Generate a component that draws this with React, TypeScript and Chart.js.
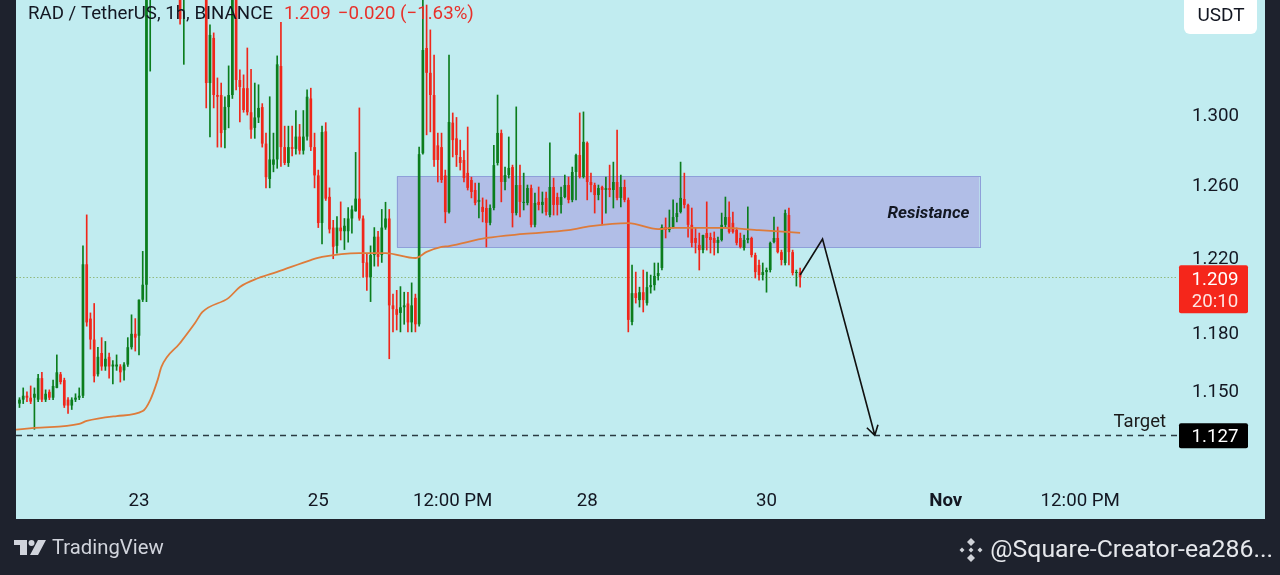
import React, { useEffect, useRef } from 'react';
import { Chart, registerables } from 'chart.js';

Chart.register(...registerables);

// hours are counted from Oct 23, 00:00 (1h candles)
const FIRST_HOUR = -32;

const opens = [
  1.143, 1.145, 1.147, 1.146, 1.146, 1.145, 1.156, 1.145, 1.149, 1.146,
  1.151, 1.158, 1.155, 1.145, 1.142, 1.145, 1.146, 1.147, 1.216, 1.187,
  1.176, 1.158, 1.169, 1.162, 1.167, 1.162, 1.162, 1.162, 1.160, 1.163,
  1.172, 1.179, 1.178, 1.197, 1.205, 1.400, 1.410, 1.430, 1.420, 1.400,
  1.415, 1.395, 1.405, 1.390, 1.370, 1.380, 1.395, 1.400, 1.390, 1.385,
  1.380, 1.318, 1.3447, 1.311, 1.311, 1.2908, 1.304, 1.311, 1.375, 1.3198,
  1.315, 1.315, 1.301, 1.292, 1.298, 1.304, 1.283, 1.263, 1.271, 1.274,
  1.328, 1.281, 1.272, 1.281, 1.280, 1.287, 1.279, 1.287, 1.309, 1.281,
  1.265, 1.2385, 1.290, 1.253, 1.236, 1.226, 1.236, 1.234, 1.234, 1.241,
  1.245, 1.252, 1.241, 1.217, 1.209, 1.221, 1.231, 1.221, 1.236, 1.241,
  1.194, 1.192, 1.190, 1.193, 1.195, 1.185, 1.198, 1.184, 1.2775, 1.3387,
  1.324, 1.311, 1.282, 1.281, 1.265, 1.2445, 1.295, 1.286, 1.2754, 1.2737,
  1.2664, 1.2624, 1.2568, 1.2502, 1.2474, 1.2468, 1.2386, 1.2468, 1.2720, 1.289,
  1.2613, 1.2652, 1.2697, 1.2440, 1.2596, 1.2496, 1.2496, 1.2579, 1.2375, 1.2502,
  1.2485, 1.2524, 1.2429, 1.2585, 1.2529, 1.2485, 1.2529, 1.2596, 1.2513, 1.2669,
  1.2765, 1.2641, 1.2834, 1.2613, 1.2596, 1.2540, 1.2585, 1.2568, 1.2579, 1.2568,
  1.2613, 1.2524, 1.2585, 1.2513, 1.1852, 1.2005, 1.1968, 1.2010, 1.1952, 1.2037,
  1.2048, 1.2097, 1.2140, 1.2363, 1.2347, 1.2363, 1.2418, 1.2446, 1.2518, 1.2485,
  1.2375, 1.2303, 1.2265, 1.2237, 1.2330, 1.2308, 1.2303, 1.2276, 1.2292, 1.2375,
  1.2418, 1.2386, 1.2347, 1.2303, 1.2248, 1.2292, 1.2303, 1.2210, 1.2156, 1.2102,
  1.2118, 1.2129, 1.2281, 1.2303, 1.2226, 1.2167, 1.2429, 1.2226, 1.2113, 1.2118,
];

const highs = [
  1.146, 1.151, 1.149, 1.152, 1.151, 1.158, 1.159, 1.150, 1.150, 1.155,
  1.168, 1.159, 1.156, 1.146, 1.146, 1.148, 1.151, 1.226, 1.243, 1.190,
  1.195, 1.172, 1.177, 1.175, 1.169, 1.165, 1.168, 1.163, 1.164, 1.177,
  1.189, 1.187, 1.197, 1.223, 1.420, 1.430, 1.440, 1.460, 1.430, 1.420,
  1.430, 1.410, 1.415, 1.400, 1.385, 1.400, 1.410, 1.420, 1.400, 1.395,
  1.390, 1.3525, 1.3477, 1.321, 1.318, 1.3099, 1.3281, 1.390, 1.385, 1.3257,
  1.3228, 1.3387, 1.326, 1.318, 1.317, 1.306, 1.289, 1.310, 1.289, 1.334,
  1.354, 1.293, 1.293, 1.293, 1.302, 1.294, 1.302, 1.314, 1.315, 1.289,
  1.268, 1.293, 1.295, 1.258, 1.240, 1.242, 1.2502, 1.241, 1.247, 1.248,
  1.278, 1.3035, 1.2425, 1.222, 1.226, 1.236, 1.234, 1.246, 1.250, 1.246,
  1.200, 1.202, 1.204, 1.201, 1.201, 1.206, 1.200, 1.281, 1.372, 1.3645,
  1.3495, 1.3345, 1.289, 1.289, 1.268, 1.3345, 1.3006, 1.298, 1.285, 1.279,
  1.2925, 1.264, 1.2607, 1.2607, 1.2524, 1.2513, 1.2485, 1.282, 1.3110, 1.2908,
  1.2697, 1.2868, 1.2708, 1.3041, 1.2708, 1.2663, 1.2596, 1.2596, 1.2551, 1.2585,
  1.2557, 1.2557, 1.2834, 1.2635, 1.2551, 1.2585, 1.2652, 1.2641, 1.2697, 1.2770,
  1.3006, 1.3012, 1.2840, 1.2663, 1.2607, 1.2596, 1.2590, 1.2641, 1.2708, 1.2725,
  1.2908, 1.2652, 1.2624, 1.2524, 1.2156, 1.2118, 1.2037, 1.2129, 1.2118, 1.2102,
  1.2167, 1.2167, 1.2375, 1.2413, 1.2457, 1.2513, 1.2496, 1.2725, 1.2663, 1.2490,
  1.2468, 1.2358, 1.2330, 1.2319, 1.2502, 1.2330, 1.2336, 1.2308, 1.2440, 1.2529,
  1.2502, 1.2446, 1.2358, 1.2330, 1.2319, 1.2474, 1.2308, 1.2221, 1.2183, 1.2167,
  1.2140, 1.2281, 1.2418, 1.2363, 1.2237, 1.2457, 1.2468, 1.2237, 1.2129, 1.2140,
];

const lows = [
  1.141, 1.143, 1.144, 1.143, 1.130, 1.144, 1.144, 1.144, 1.145, 1.145,
  1.151, 1.153, 1.141, 1.138, 1.140, 1.144, 1.145, 1.146, 1.183, 1.171,
  1.154, 1.157, 1.160, 1.160, 1.156, 1.153, 1.160, 1.154, 1.155, 1.162,
  1.171, 1.170, 1.168, 1.196, 1.196, 1.325, 1.390, 1.410, 1.390, 1.385,
  1.390, 1.380, 1.380, 1.353, 1.329, 1.372, 1.380, 1.385, 1.375, 1.372,
  1.3035, 1.2868, 1.3035, 1.281, 1.281, 1.2805, 1.292, 1.309, 1.314, 1.2954,
  1.301, 1.2994, 1.286, 1.286, 1.295, 1.281, 1.258, 1.258, 1.267, 1.269,
  1.270, 1.271, 1.270, 1.276, 1.277, 1.277, 1.277, 1.285, 1.279, 1.258,
  1.236, 1.227, 1.251, 1.233, 1.219, 1.222, 1.2292, 1.224, 1.228, 1.233,
  1.245, 1.240, 1.209, 1.202, 1.196, 1.215, 1.215, 1.217, 1.235, 1.166,
  1.180, 1.181, 1.180, 1.184, 1.180, 1.180, 1.180, 1.183, 1.277, 1.288,
  1.2897, 1.270, 1.2613, 1.261, 1.2386, 1.244, 1.2754, 1.270, 1.268, 1.2613,
  1.2568, 1.2524, 1.2485, 1.2413, 1.2391, 1.2254, 1.2375, 1.2457, 1.2708, 1.2502,
  1.2568, 1.2635, 1.2363, 1.2429, 1.2418, 1.2457, 1.2485, 1.2363, 1.2363, 1.2457,
  1.2440, 1.2429, 1.2418, 1.2429, 1.2429, 1.2440, 1.2524, 1.2496, 1.2502, 1.2513,
  1.2635, 1.2635, 1.2513, 1.2557, 1.2440, 1.2513, 1.2375, 1.2440, 1.2530, 1.2468,
  1.2513, 1.2474, 1.2502, 1.1800, 1.1837, 1.1952, 1.1931, 1.1905, 1.1941, 1.2005,
  1.2021, 1.2075, 1.2129, 1.2303, 1.2336, 1.2358, 1.2391, 1.2440, 1.2468, 1.2308,
  1.2254, 1.2221, 1.2129, 1.2221, 1.2237, 1.2221, 1.2210, 1.2221, 1.2286, 1.2363,
  1.2330, 1.2330, 1.2265, 1.2248, 1.2237, 1.2276, 1.2199, 1.2086, 1.2075, 1.2075,
  1.2010, 1.2118, 1.2276, 1.2221, 1.2156, 1.2156, 1.2156, 1.2102, 1.2043, 1.2037,
];

const closes = [
  1.145, 1.147, 1.146, 1.144, 1.148, 1.156, 1.145, 1.148, 1.146, 1.152,
  1.159, 1.154, 1.142, 1.142, 1.145, 1.146, 1.147, 1.216, 1.185, 1.176,
  1.157, 1.167, 1.162, 1.166, 1.162, 1.163, 1.163, 1.159, 1.163, 1.172,
  1.179, 1.177, 1.197, 1.205, 1.400, 1.410, 1.430, 1.420, 1.400, 1.415,
  1.395, 1.405, 1.390, 1.356, 1.380, 1.395, 1.400, 1.390, 1.385, 1.380,
  1.318, 1.3465, 1.311, 1.310, 1.289, 1.3041, 1.311, 1.375, 1.3198, 1.3157,
  1.3023, 1.301, 1.291, 1.298, 1.3035, 1.283, 1.264, 1.274, 1.274, 1.329,
  1.281, 1.272, 1.281, 1.280, 1.287, 1.279, 1.287, 1.310, 1.281, 1.265,
  1.2385, 1.2896, 1.252, 1.235, 1.2255, 1.236, 1.234, 1.237, 1.241, 1.246,
  1.252, 1.241, 1.2167, 1.209, 1.221, 1.231, 1.220, 1.236, 1.241, 1.194,
  1.192, 1.189, 1.193, 1.194, 1.185, 1.194, 1.184, 1.277, 1.3375, 1.324,
  1.311, 1.2737, 1.2737, 1.2624, 1.2445, 1.2954, 1.285, 1.2765, 1.272, 1.2635,
  1.258, 1.2557, 1.2496, 1.2513, 1.2446, 1.2386, 1.2468, 1.2708, 1.2891, 1.2613,
  1.2652, 1.2692, 1.2440, 1.2596, 1.2502, 1.2502, 1.2579, 1.2375, 1.2496, 1.2485,
  1.2502, 1.2446, 1.2585, 1.2485, 1.2485, 1.2529, 1.2596, 1.2513, 1.2669, 1.2765,
  1.2641, 1.2840, 1.2613, 1.2596, 1.2540, 1.2579, 1.2568, 1.2579, 1.2568, 1.2613,
  1.2524, 1.2585, 1.2513, 1.1863, 1.2005, 1.1979, 1.2010, 1.1968, 1.2037, 1.2048,
  1.2097, 1.2113, 1.2363, 1.2347, 1.2363, 1.2418, 1.2440, 1.2524, 1.2485, 1.2375,
  1.2276, 1.2276, 1.2237, 1.2319, 1.2303, 1.2292, 1.2276, 1.2292, 1.2375, 1.2418,
  1.2336, 1.2336, 1.2276, 1.2254, 1.2292, 1.2303, 1.2210, 1.2118, 1.2102, 1.2118,
  1.2129, 1.2276, 1.2303, 1.2226, 1.2183, 1.2440, 1.2226, 1.2113, 1.2118, 1.2090,
];

// moving average (orange line)
const maHours = [-33, -28, -16, -14, -6, 1, 3, 5, 6, 11, 15, 17, 24, 27, 32, 37, 46, 49, 59, 66, 74, 77, 81, 83, 93, 103, 115, 121, 131, 139, 143, 156, 166, 177];
const maValues = [1.1298, 1.1307, 1.1327, 1.1342, 1.1367, 1.1392, 1.1448, 1.1551, 1.1618, 1.1742, 1.1847, 1.1905, 1.1980, 1.2038, 1.2086, 1.2119, 1.2183, 1.2200, 1.2221, 1.2221, 1.2194, 1.2227, 1.2254, 1.2259, 1.2303, 1.2325, 1.2346, 1.2368, 1.2385, 1.2352, 1.2358, 1.2358, 1.2346, 1.2331];

const xTickHours = [0, 48, 84, 120, 168, 216, 252];
const xTickLabels = ['23', '25', '12:00 PM', '28', '30', 'Nov', '12:00 PM'];
const yTicks = [1.15, 1.18, 1.22, 1.26, 1.3];

const lastPrice = 1.209;
const lastChange = '\u22120.020 (\u22121.63%)';
const countdown = '20:10';
const targetPrice = 1.127;
const zoneHours = [69, 225];
const zonePrices = [1.2252, 1.2644];
const pathHours = [177, 183, 197];
const pathPrices = [1.2102, 1.2297, 1.127];

const X_MIN = -32.93;
const X_MAX = 278.17;
const Y_MIN = 1.10976;
const Y_MAX = 1.36755;

const UP = '#0b7d1d';
const DOWN = '#f0261a';
const MA_COLOR = '#de7b3a';
const BG = '#c1ecf0';
const DARK = '#1e222d';
const TEXT = '#131722';
const FONT = 'Roboto, sans-serif';
const AXIS_SIZE = 18.7;

const f = (size: number, weight = 'normal', style = 'normal') => `${style} ${weight} ${size}px ${FONT}`;

function roundRect(ctx: CanvasRenderingContext2D, x: number, y: number, w: number, h: number, r: number) {
  ctx.beginPath();
  ctx.moveTo(x + r, y);
  ctx.lineTo(x + w - r, y);
  ctx.arcTo(x + w, y, x + w, y + r, r);
  ctx.lineTo(x + w, y + h - r);
  ctx.arcTo(x + w, y + h, x + w - r, y + h, r);
  ctx.lineTo(x + r, y + h);
  ctx.arcTo(x, y + h, x, y + h - r, r);
  ctx.lineTo(x, y + r);
  ctx.arcTo(x, y, x + r, y, r);
  ctx.closePath();
}

const overlay = {
  id: 'overlay',
  beforeDraw(chart: any) {
    const { ctx, width, height } = chart;
    ctx.save();
    ctx.fillStyle = DARK;
    ctx.fillRect(0, 0, width, height);
    ctx.fillStyle = BG;
    ctx.fillRect(16, 0, 1249, 519);
    ctx.restore();
  },
  beforeDatasetsDraw(chart: any) {
    const { ctx, chartArea } = chart;
    const xs = chart.scales.x;
    const ys = chart.scales.y;
    ctx.save();
    const x1 = xs.getPixelForValue(zoneHours[0]);
    const x2 = xs.getPixelForValue(zoneHours[1]);
    const y1 = ys.getPixelForValue(zonePrices[1]);
    const y2 = ys.getPixelForValue(zonePrices[0]);
    ctx.fillStyle = '#b1bee7';
    ctx.fillRect(x1, y1, x2 - x1, y2 - y1);
    ctx.strokeStyle = '#8e9fd9';
    ctx.lineWidth = 1;
    ctx.strokeRect(Math.round(x1) + 0.5, Math.round(y1) + 0.5, Math.round(x2 - x1), Math.round(y2 - y1));
    const yl = Math.round(ys.getPixelForValue(lastPrice)) + 0.5;
    ctx.setLineDash([1.5, 2]);
    ctx.strokeStyle = '#93b97e';
    ctx.lineWidth = 1.2;
    ctx.beginPath();
    ctx.moveTo(chartArea.left, yl);
    ctx.lineTo(chartArea.right, yl);
    ctx.stroke();
    ctx.restore();
  },
  afterDatasetsDraw(chart: any) {
    const { ctx, chartArea } = chart;
    const xs = chart.scales.x;
    const ys = chart.scales.y;
    ctx.save();
    // target line
    const yt = Math.round(ys.getPixelForValue(targetPrice)) + 0.5;
    ctx.setLineDash([6, 5]);
    ctx.strokeStyle = '#2a3b42';
    ctx.lineWidth = 1.5;
    ctx.beginPath();
    ctx.moveTo(chartArea.left, yt);
    ctx.lineTo(chartArea.right, yt);
    ctx.stroke();
    ctx.setLineDash([]);
    // projected path
    const pts = pathHours.map((h, i) => [xs.getPixelForValue(h), ys.getPixelForValue(pathPrices[i])]);
    ctx.strokeStyle = '#111111';
    ctx.lineWidth = 1.6;
    ctx.beginPath();
    pts.forEach(([x, y], i) => (i ? ctx.lineTo(x, y) : ctx.moveTo(x, y)));
    const [ax, ay] = pts[pts.length - 2];
    const [bx, by] = pts[pts.length - 1];
    const ang = Math.atan2(by - ay, bx - ax);
    for (const d of [-0.55, 0.55]) {
      ctx.moveTo(bx, by);
      ctx.lineTo(bx - 11 * Math.cos(ang + d), by - 11 * Math.sin(ang + d));
    }
    ctx.stroke();
    // zone label
    const zx2 = xs.getPixelForValue(zoneHours[1]);
    const zy = (ys.getPixelForValue(zonePrices[0]) + ys.getPixelForValue(zonePrices[1])) / 2;
    ctx.fillStyle = TEXT;
    ctx.font = f(17, 'bold', 'italic');
    ctx.textAlign = 'right';
    ctx.textBaseline = 'middle';
    ctx.fillText('Resistance', zx2 - 10, zy + 2);
    // target label
    ctx.font = f(18.5);
    ctx.fillStyle = '#1a1a1a';
    ctx.fillText('Target', chartArea.right - 12, yt - 13);
    // title / legend
    ctx.textAlign = 'left';
    ctx.font = f(18.7);
    ctx.fillStyle = TEXT;
    const title = 'RAD / TetherUS, 1h, BINANCE';
    ctx.fillText(title, 28, 14);
    let x = 28 + ctx.measureText(title).width + 11;
    ctx.fillStyle = '#e8302a';
    ctx.fillText(lastPrice.toFixed(3), x, 14);
    x += ctx.measureText(lastPrice.toFixed(3)).width + 7;
    ctx.fillText(lastChange, x, 14);
    ctx.restore();
  },
  afterDraw(chart: any) {
    const { ctx, chartArea } = chart;
    const ys = chart.scales.y;
    ctx.save();
    const left = chartArea.right + 1;
    // last price badge
    const yl = ys.getPixelForValue(lastPrice);
    ctx.fillStyle = '#f5261b';
    roundRect(ctx, left, yl - 12, 69, 48, 2);
    ctx.fill();
    ctx.fillStyle = '#ffffff';
    ctx.font = f(AXIS_SIZE);
    ctx.textAlign = 'center';
    ctx.textBaseline = 'middle';
    ctx.fillText(lastPrice.toFixed(3), left + 36, yl + 3);
    ctx.fillStyle = 'rgba(255,255,255,0.88)';
    ctx.fillText(countdown, left + 36, yl + 25);
    // target badge
    const yt = ys.getPixelForValue(targetPrice);
    ctx.fillStyle = '#000000';
    roundRect(ctx, left, yt - 12, 69, 25, 2);
    ctx.fill();
    ctx.fillStyle = '#ffffff';
    ctx.fillText(targetPrice.toFixed(3), left + 36, yt + 2);
    // currency badge
    ctx.fillStyle = '#ffffff';
    roundRect(ctx, 1184, -6, 73, 40, 6);
    ctx.fill();
    ctx.fillStyle = TEXT;
    ctx.font = f(19);
    ctx.fillText('USDT', 1221, 16);
    // footer: TradingView mark
    ctx.fillStyle = '#d1d4dc';
    ctx.fillRect(14, 540, 13, 5);
    ctx.fillRect(20, 540, 7, 15);
    ctx.beginPath();
    ctx.arc(31.5, 543, 3, 0, Math.PI * 2);
    ctx.fill();
    ctx.beginPath();
    ctx.moveTo(38, 540);
    ctx.lineTo(46, 540);
    ctx.lineTo(38, 555);
    ctx.lineTo(30, 555);
    ctx.closePath();
    ctx.fill();
    ctx.textAlign = 'left';
    ctx.font = f(20.3);
    ctx.fillText('TradingView', 52, 549);
    // footer: watermark
    ctx.fillStyle = '#e6e8ec';
    ctx.font = f(24.8);
    ctx.textAlign = 'right';
    ctx.fillText('@Square-Creator-ea286...', 1273, 551);
    ctx.fillStyle = '#cfd2d8';
    const cx = 971;
    const cy = 550;
    const dia = (x: number, y: number, r: number) => {
      ctx.beginPath();
      ctx.moveTo(x, y - r);
      ctx.lineTo(x + r, y);
      ctx.lineTo(x, y + r);
      ctx.lineTo(x - r, y);
      ctx.closePath();
      ctx.fill();
    };
    dia(cx, cy - 8, 4);
    dia(cx, cy + 8, 4);
    dia(cx - 9, cy, 2.5);
    dia(cx + 9, cy, 2.5);
    dia(cx, cy, 2.5);
    ctx.restore();
  },
};

export default function App() {
  const ref = useRef<HTMLCanvasElement | null>(null);
  useEffect(() => {
    if (!ref.current) return;
    const candleHours = opens.map((_, i) => FIRST_HOUR + i);
    const colors = opens.map((o, i) => (closes[i] >= o ? UP : DOWN));
    const chart = new Chart(ref.current, {
      type: 'bar',
      data: {
        datasets: [
          {
            type: 'line',
            label: 'MA',
            data: maHours.map((h, i) => ({ x: h, y: maValues[i] })),
            borderColor: MA_COLOR,
            borderWidth: 1.8,
            pointRadius: 0,
            cubicInterpolationMode: 'monotone',
            order: 0,
          } as any,
          {
            type: 'bar',
            label: 'body',
            data: candleHours.map((h, i) => ({ x: h, y: [opens[i], closes[i]] })),
            backgroundColor: colors,
            grouped: false,
            barPercentage: 0.72,
            categoryPercentage: 1,
            minBarLength: 1,
            borderWidth: 0,
            order: 1,
          } as any,
          {
            type: 'bar',
            label: 'wick',
            data: candleHours.map((h, i) => ({ x: h, y: [lows[i], highs[i]] })),
            backgroundColor: colors,
            grouped: false,
            barPercentage: 1,
            categoryPercentage: 1,
            maxBarThickness: 1,
            borderWidth: 0,
            order: 2,
          } as any,
        ],
      },
      options: {
        animation: false,
        responsive: false,
        events: [],
        layout: { padding: { left: 16, right: 15, top: 0, bottom: 56 } },
        plugins: { legend: { display: false }, tooltip: { enabled: false } },
        scales: {
          x: {
            type: 'linear',
            min: X_MIN,
            max: X_MAX,
            bounds: 'data',
            offset: false,
            grid: { display: false, drawTicks: false },
            border: { display: false },
            afterBuildTicks: (s: any) => {
              s.ticks = xTickHours.map((v) => ({ value: v }));
            },
            afterFit: (s: any) => {
              s.height = 49;
              s.paddingLeft = 0;
              s.paddingRight = 0;
              s.paddingTop = 0;
              s.paddingBottom = 0;
            },
            ticks: {
              autoSkip: false,
              maxRotation: 0,
              minRotation: 0,
              padding: 20,
              color: TEXT,
              font: (c: any) => ({ family: FONT, size: AXIS_SIZE, weight: xTickLabels[c.index] === 'Nov' ? 'bold' : 'normal' }),
              callback: (_v: any, i: number) => xTickLabels[i],
            },
          },
          y: {
            type: 'logarithmic',
            position: 'right',
            min: Y_MIN,
            max: Y_MAX,
            bounds: 'data',
            grid: { display: false, drawTicks: false },
            border: { display: false },
            afterBuildTicks: (s: any) => {
              s.ticks = yTicks.map((v) => ({ value: v }));
            },
            afterFit: (s: any) => {
              s.width = 87;
              s.paddingTop = 0;
              s.paddingBottom = 0;
              s.paddingLeft = 0;
              s.paddingRight = 0;
            },
            ticks: {
              autoSkip: false,
              padding: 14,
              labelOffset: 2,
              color: TEXT,
              font: { family: FONT, size: AXIS_SIZE },
              callback: (v: any) => Number(v).toFixed(3),
            },
          },
        },
      } as any,
      plugins: [overlay],
    });
    return () => chart.destroy();
  }, []);
  return (
    <div style={{ position: 'absolute', left: 0, top: 0, width: 1280, height: 575 }}>
      <canvas ref={ref} width={1280} height={575} style={{ display: 'block' }} />
    </div>
  );
}
